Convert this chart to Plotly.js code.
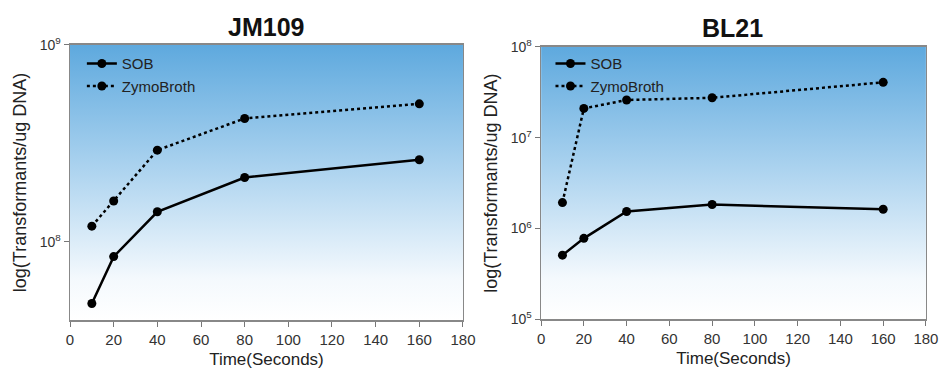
<!DOCTYPE html>
<html>
<head>
<meta charset="utf-8">
<script src="https://cdn.plot.ly/plotly-3.0.1.min.js"></script>
<style>html,body{margin:0;padding:0;background:#fff;}#chart{width:941px;height:378px;}</style>
</head>
<body>
<div id="chart"></div>
<script>
const times = [10, 20, 40, 80, 160];
const jm109SOB = [4.85e7, 8.4e7, 1.42e8, 2.12e8, 2.61e8];
const jm109Zymo = [1.2e8, 1.61e8, 2.92e8, 4.23e8, 5.02e8];
const bl21SOB = [5.1e5, 7.8e5, 1.54e6, 1.84e6, 1.63e6];
const bl21Zymo = [1.93e6, 2.1e7, 2.6e7, 2.75e7, 4.07e7];
const panelTitles = ["JM109", "BL21"];
const seriesNames = ["SOB", "ZymoBroth"];
const xTicks = [0, 20, 40, 60, 80, 100, 120, 140, 160, 180];
const jmYTicks = [1e8, 1e9];
const jmYText = ["10<sup>8</sup>", "10<sup>9</sup>"];
const blYTicks = [1e5, 1e6, 1e7, 1e8];
const blYText = ["10<sup>5</sup>", "10<sup>6</sup>", "10<sup>7</sup>", "10<sup>8</sup>"];

const grad = 'data:image/svg+xml;utf8,' + encodeURIComponent(
  '<svg xmlns="http://www.w3.org/2000/svg" width="100" height="100" preserveAspectRatio="none">' +
  '<defs><linearGradient id="g" x1="0" y1="0" x2="0" y2="1">' +
  '<stop offset="0" stop-color="#5ea9de"/><stop offset="0.45" stop-color="#acd3ef"/>' +
  '<stop offset="0.85" stop-color="#f4f9fd"/><stop offset="1" stop-color="#ffffff"/>' +
  '</linearGradient></defs><rect width="100" height="100" fill="url(#g)"/></svg>');

function mk(x, y, name, dash, xa, ya, leg) {
  return {x: x, y: y, name: name, type: 'scatter', mode: 'lines+markers',
    xaxis: xa, yaxis: ya, legend: leg,
    line: {color: '#000', width: 2.5, dash: dash},
    marker: {color: '#000', size: 9}};
}
const data = [
  mk(times, jm109SOB, seriesNames[0], 'solid', 'x', 'y', 'legend'),
  mk(times, jm109Zymo, seriesNames[1], 'dot', 'x', 'y', 'legend'),
  mk(times, bl21SOB, seriesNames[0], 'solid', 'x2', 'y2', 'legend2'),
  mk(times, bl21Zymo, seriesNames[1], 'dot', 'x2', 'y2', 'legend2')
];
const fam = 'Liberation Sans, Arial, sans-serif';
const tickFont = {family: fam, size: 15, color: '#333'};
const yTickFont = {family: fam, size: 14, color: '#333'};
const xTitleFont = {family: fam, size: 17, color: '#222'};
const yTitleFont = {family: fam, size: 18, color: '#222'};
function xax(dom, anchor) {
  return {domain: dom, anchor: anchor, range: [0, 180], tickvals: xTicks,
    ticks: 'outside', ticklen: 5, tickcolor: '#777', showline: true, linecolor: '#888',
    linewidth: 1.5, mirror: true, showgrid: false, zeroline: false, tickfont: tickFont,
    title: {text: 'Time(Seconds)', font: xTitleFont, standoff: 6}};
}
function yax(dom, anchor, range, tv, tt) {
  return {domain: dom, anchor: anchor, type: 'log', range: range, tickvals: tv, ticktext: tt,
    ticks: 'outside', ticklen: 5, tickcolor: '#777', showline: true, linecolor: '#888',
    linewidth: 1.5, mirror: true, showgrid: false, zeroline: false, tickfont: yTickFont,
    title: {text: 'log(Transformants/ug DNA)', font: yTitleFont, standoff: 8}};
}
const legFont = {family: fam, size: 15, color: '#222'};
const layout = {
  width: 941, height: 378, margin: {l: 0, r: 0, t: 0, b: 0},
  paper_bgcolor: '#fff', plot_bgcolor: 'rgba(0,0,0,0)',
  xaxis: xax([0.0744, 0.492], 'y'),
  yaxis: yax([0.1534, 0.881], 'x', [Math.log10(4.0e7), 9], jmYTicks, jmYText),
  xaxis2: xax([0.575, 0.984], 'y2'),
  yaxis2: yax([0.155, 0.876], 'x2', [5, 8], blYTicks, blYText),
  legend: {x: 0.087, y: 0.875, xanchor: 'left', yanchor: 'top', bgcolor: 'rgba(0,0,0,0)',
    font: legFont, tracegroupgap: 0, itemwidth: 30},
  legend2: {x: 0.585, y: 0.875, xanchor: 'left', yanchor: 'top', bgcolor: 'rgba(0,0,0,0)',
    font: legFont, tracegroupgap: 0, itemwidth: 30},
  showlegend: true,
  images: [
    {source: grad, xref: 'x domain', yref: 'y domain', x: 0, y: 1, sizex: 1, sizey: 1,
      sizing: 'stretch', layer: 'below', xanchor: 'left', yanchor: 'top'},
    {source: grad, xref: 'x2 domain', yref: 'y2 domain', x: 0, y: 1, sizex: 1, sizey: 1,
      sizing: 'stretch', layer: 'below', xanchor: 'left', yanchor: 'top'}
  ],
  annotations: [
    {text: '<b>' + panelTitles[0] + '</b>', xref: 'paper', yref: 'paper', x: 266/941, y: 1 - 27/378,
      xanchor: 'center', yanchor: 'middle',
      showarrow: false, font: {family: fam, size: 25, color: '#111'}},
    {text: '<b>' + panelTitles[1] + '</b>', xref: 'paper', yref: 'paper', x: 732/941, y: 1 - 28/378,
      xanchor: 'center', yanchor: 'middle',
      showarrow: false, font: {family: fam, size: 25, color: '#111'}}
  ]
};
Plotly.newPlot('chart', data, layout, {displayModeBar: false, staticPlot: true});
</script>
</body>
</html>
